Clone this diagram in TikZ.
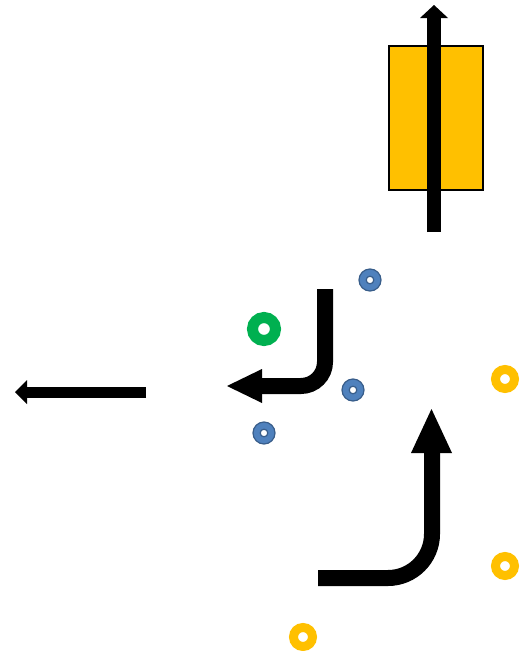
\documentclass[tikz,border=0pt]{standalone}
\definecolor{gold}{HTML}{FFC000}
\definecolor{grn}{HTML}{00B050}
\definecolor{blu}{HTML}{4F81BD}
\definecolor{bluedge}{HTML}{385D8A}
\tikzset{
  shaft/.style={line width=#1, line cap=butt, black},
  head/.style={fill=black},
  goldring/.style={circle, draw=gold, line width=9pt, minimum size=19pt, inner sep=0pt},
  greenring/.style={circle, draw=grn, line width=11pt, minimum size=23pt, inner sep=0pt},
  bluering/.style={fill=blu, draw=bluedge, line width=1.2pt, even odd rule},
}
\begin{document}
\begin{tikzpicture}[x=1pt,y=-1pt]
\useasboundingbox (0,0) rectangle (525,651);
% box
\node[draw=black, line width=2pt, fill=gold, minimum width=94pt, minimum height=144pt, inner sep=0pt, anchor=north west] (box) at (388,45) {};
% top arrow
\coordinate (t0) at (434,232);
\coordinate (t1) at (434,17);
\draw[shaft=14pt] (t0) -- (t1);
\fill[head] (420,18) -- (434,5) -- (448,18) -- cycle;
% middle bent arrow
\coordinate (m0) at (325,289);
\coordinate (m1) at (325,386);
\coordinate (m2) at (261,386);
\draw[shaft=16pt, rounded corners=24pt] (m0) -- (m1) -- (m2);
\fill[head] (262,369) -- (262,403) -- (227,386) -- cycle;
% bottom bent arrow
\coordinate (b0) at (318,578);
\coordinate (b1) at (432,578);
\coordinate (b2) at (432,452);
\draw[shaft=16pt, rounded corners=44pt] (b0) -- (b1) -- (b2);
\fill[head] (411,453) -- (452,453) -- (431.5,409) -- cycle;
% left arrow
\coordinate (l0) at (146,392);
\coordinate (l1) at (26,392);
\draw[shaft=11pt] (l0) -- (l1);
\fill[head] (27,380) -- (27,404) -- (15,392) -- cycle;
% rings
\node[greenring] (g1) at (264,329) {};
\node[goldring] (y1) at (505,379) {};
\node[goldring] (y2) at (505,566) {};
\node[goldring] (y3) at (303,637) {};
\path[bluering] (370,280) circle (11) (370,280) circle (3.8);
\path[bluering] (353,390) circle (11) (353,390) circle (3.8);
\path[bluering] (264,433) circle (11) (264,433) circle (3.8);
\end{tikzpicture}
\end{document}
